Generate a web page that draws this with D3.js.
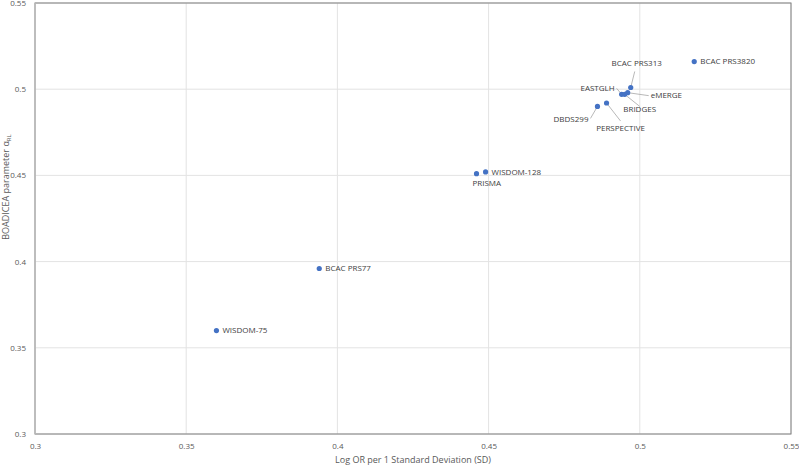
<!DOCTYPE html>
<html>
<head>
<meta charset="utf-8">
<script src="https://cdn.jsdelivr.net/npm/d3@7"></script>
<style>
  body { margin: 0; background: #fff; }
  text { font-family: "Open Sans", "Noto Sans", sans-serif; }
</style>
</head>
<body>
<svg width="799" height="467"></svg>
<script>
/// chart data
var names = ["BCAC PRS3820", "BCAC PRS313", "EASTGLH", "eMERGE", "BRIDGES",
             "PERSPECTIVE", "DBDS299", "WISDOM-128", "PRISMA", "BCAC PRS77", "WISDOM-75"];
var logOR = [0.518, 0.497, 0.494, 0.496, 0.495, 0.489, 0.486, 0.449, 0.446, 0.394, 0.360];
var alpha = [0.516, 0.501, 0.497, 0.498, 0.497, 0.492, 0.490, 0.452, 0.451, 0.396, 0.360];
var xTicks = [0.3, 0.35, 0.4, 0.45, 0.5, 0.55];
var yTicks = [0.3, 0.35, 0.4, 0.45, 0.5, 0.55];

/// label placement: [dx, dy, anchor, leader end dx, leader end dy] (pixels from point)
var labelPos = [
  [6, 0, "start", null, null],
  [6, -24, "middle", 4, -16],
  [-7, -6, "end", -5, -6],
  [23, 3, "start", 21, 3],
  [15, 15, "middle", 15, 12],
  [14, 25, "middle", 14, 18],
  [-9, 13, "end", -7, 12],
  [6, 0, "start", null, null],
  [-4, 10, "start", null, null],
  [6, 0, "start", null, null],
  [6, 0, "start", null, null]
];

var svg = d3.select("svg");
var m = { left: 35, right: 791, top: 3, bottom: 434 };

var x = d3.scaleLinear().domain([0.3, 0.55]).range([m.left, m.right]);
var y = d3.scaleLinear().domain([0.3, 0.55]).range([m.bottom, m.top]);

// gridlines
svg.append("g")
  .selectAll("line.gx")
  .data(xTicks)
  .enter().append("line")
    .attr("x1", function(d) { return x(d); })
    .attr("x2", function(d) { return x(d); })
    .attr("y1", m.top).attr("y2", m.bottom)
    .attr("stroke", "#e3e3e3").attr("stroke-width", 1);
svg.append("g")
  .selectAll("line.gy")
  .data(yTicks)
  .enter().append("line")
    .attr("y1", function(d) { return y(d); })
    .attr("y2", function(d) { return y(d); })
    .attr("x1", m.left).attr("x2", m.right)
    .attr("stroke", "#e3e3e3").attr("stroke-width", 1);

// plot frame
svg.append("rect")
  .attr("x", m.left).attr("y", m.top)
  .attr("width", m.right - m.left).attr("height", m.bottom - m.top)
  .attr("fill", "none").attr("stroke", "#7f7f7f").attr("stroke-width", 1);
svg.append("line")
  .attr("x1", m.left).attr("x2", m.left).attr("y1", m.top).attr("y2", m.bottom)
  .attr("stroke", "#bfbfbf").attr("stroke-width", 1.5);

// axes (text only, frame drawn above)
var xAxis = svg.append("g")
  .attr("transform", "translate(0," + (m.bottom + 6) + ")")
  .call(d3.axisBottom(x).tickValues(xTicks).tickSize(0).tickFormat(d3.format("")));
var yAxis = svg.append("g")
  .attr("transform", "translate(" + (m.left - 6) + ",0)")
  .call(d3.axisLeft(y).tickValues(yTicks).tickSize(0).tickFormat(d3.format("")));
[xAxis, yAxis].forEach(function(a) {
  a.select(".domain").remove();
  a.selectAll("text")
    .attr("fill", "#595959")
    .style("font-size", "8px")
    .style("font-family", "'Open Sans', sans-serif");
});

// axis titles
svg.append("text")
  .attr("x", (m.left + m.right) / 2).attr("y", 463)
  .attr("text-anchor", "middle")
  .attr("fill", "#595959").style("font-size", "9px")
  .text("Log OR per 1 Standard Deviation (SD)");

var yt = svg.append("text")
  .attr("transform", "translate(9,187) rotate(-90)")
  .attr("text-anchor", "middle")
  .attr("fill", "#595959").style("font-size", "9px");
yt.append("tspan").text("BOADICEA parameter α");
yt.append("tspan").attr("dy", 2).style("font-size", "6px").text("RL");

// data points
var pts = names.map(function(n, i) {
  return { name: n, x: logOR[i], y: alpha[i], pos: labelPos[i] };
});

svg.append("g")
  .selectAll("line")
  .data(pts.filter(function(d) { return d.pos[3] !== null; }))
  .enter().append("line")
    .attr("x1", function(d) { return x(d.x); })
    .attr("y1", function(d) { return y(d.y); })
    .attr("x2", function(d) { return x(d.x) + d.pos[3]; })
    .attr("y2", function(d) { return y(d.y) + d.pos[4]; })
    .attr("stroke", "#a6a6a6").attr("stroke-width", 0.8);

svg.append("g")
  .selectAll("circle")
  .data(pts)
  .enter().append("circle")
    .attr("cx", function(d) { return x(d.x); })
    .attr("cy", function(d) { return y(d.y); })
    .attr("r", 2.6)
    .attr("fill", "#4472c4");

svg.append("g")
  .selectAll("text")
  .data(pts)
  .enter().append("text")
    .attr("x", function(d) { return x(d.x) + d.pos[0]; })
    .attr("y", function(d) { return y(d.y) + d.pos[1]; })
    .attr("dy", "0.35em")
    .attr("text-anchor", function(d) { return d.pos[2]; })
    .attr("fill", "#404040")
    .style("font-size", "8px")
    .text(function(d) { return d.name; });
</script>
</body>
</html>
